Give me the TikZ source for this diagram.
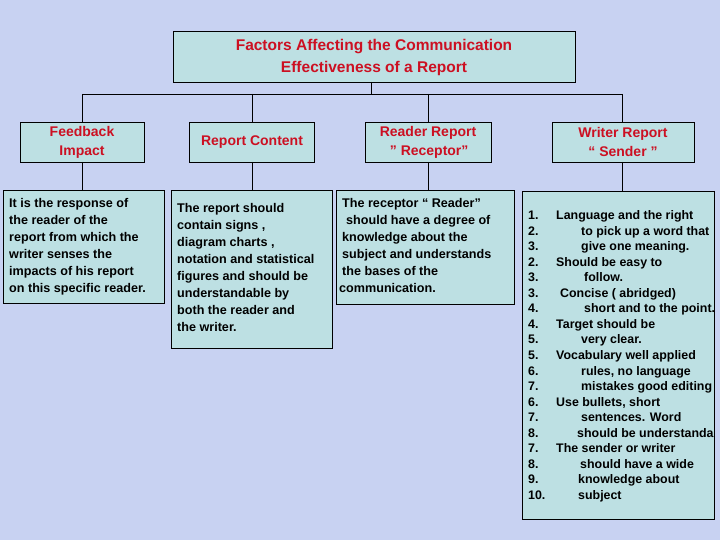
\documentclass[tikz,border=0pt]{standalone}
\usepackage{fontspec}
\setmainfont{Liberation Sans}
\begin{document}
\begin{tikzpicture}[x=1pt,y=-1pt,
  bx/.style={draw=black,line width=0.8pt,fill=boxc},
  hd/.style={font=\bfseries\fontsize{14}{19}\selectfont,text=redc,align=center},
  bd/.style={font=\bfseries\fontsize{12.6}{17}\selectfont,align=left,anchor=north west,inner sep=0pt},
  wl/.style={font=\bfseries\fontsize{12.4}{14}\selectfont,anchor=base west,inner sep=0pt},
  ln/.style={line width=0.8pt}]
\definecolor{boxc}{HTML}{BDE0E3}
\definecolor{redc}{HTML}{CC1022}
\definecolor{bgc}{HTML}{C8D2F2}
\fill[bgc] (0,0) rectangle (720,540);
\useasboundingbox (0,0) rectangle (720,540);
% title
\draw[bx] (173,31) rectangle (575,82);
\node[hd,font=\bfseries\fontsize{15.5}{22}\selectfont] (t) at (374,57) {Factors Affecting the Communication\\Effectiveness of a Report};
% bus
\coordinate (bl) at (82,94); \coordinate (br) at (622,94);
\draw[ln] (371,82) -- (371,94);
\draw[ln] (bl) -- (br);
\foreach \x in {82,252,428,622} \draw[ln] (\x,94) -- (\x,122);
% headers
\draw[bx] (20,122) rectangle (144,162);
\node[hd] (h1) at (82,142) {Feedback\\Impact};
\draw[bx] (189,122) rectangle (314,162);
\node[hd] (h2) at (252,142) {Report Content};
\draw[bx] (365,122) rectangle (491,162);
\node[hd] (h3) at (428,142) {Reader Report\\\,” Receptor”};
\draw[bx] (552,122) rectangle (694,162);
\node[hd] (h4) at (623,142) {Writer Report\\“ Sender ”};
% drops
\foreach \x in {82,252,428} \draw[ln] (\x,162) -- (\x,190);
\draw[ln] (622,162) -- (622,191);
% text boxes
\draw[bx] (3,190) rectangle (164,303);
\node[bd] (b1) at (9,198) {It is the response of\\the reader of the\\report from which the\\writer senses the\\impacts of his report\\on this specific reader.};
\draw[bx] (171,190) rectangle (332,348);
\node[bd] (b2) at (177,203) {The report should\\contain signs ,\\diagram charts ,\\notation and statistical\\figures and should be\\understandable by\\both the reader and\\the writer.};
\draw[bx] (336,190) rectangle (514,304);
\node[bd] (b3) at (339,198) {\hspace*{3pt}The receptor “ Reader”\\\hspace*{7pt}should have a degree of\\\hspace*{3pt}knowledge about the\\\hspace*{3pt}subject and understands\\\hspace*{3pt}the bases of the\\communication.};
\draw[bx] (522,191) rectangle (714,519);
\begin{scope}
\clip (522,191) rectangle (719,519);
\foreach \n/\xx/\t [count=\i from 0] in {
 1./556/Language and the right,
 2./581/to pick up a word that,
 3./581/give one meaning.,
 2./556/Should be easy  to,
 3./584/follow.,
 3./560/Concise ( abridged),
 4./584/short and to the point.,
 4./556/Target should be,
 5./581/very clear.,
 5./556/Vocabulary well applied,
 6./581/{rules, no language},
 7./581/mistakes good editing,
 6./556/{Use bullets, short},
 7./581/sentences. Word,
 8./577/should be understanda,
 7./556/The sender or writer,
 8./580/should have a wide,
 9./578/knowledge  about,
 10./578/subject}
 {\node[wl] at (528,219.5+15.55*\i) {\n};
  \node[wl] at (\xx,219.5+15.55*\i) {\t};}
\end{scope}
\draw[line width=0.8pt] (714,191) -- (714,519);
\end{tikzpicture}
\end{document}
